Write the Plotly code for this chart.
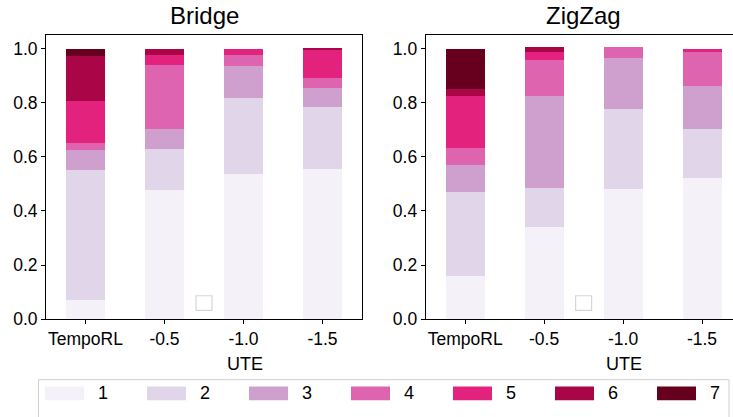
import plotly.graph_objects as go

# Categories on the x axis
categories = ["TempoRL", "-0.5", "-1.0", "-1.5"]
levels = ["1", "2", "3", "4", "5", "6", "7"]

# Fraction of episodes per level (stacked bottom to top), one list per level
bridge = [
    [0.069, 0.476, 0.537, 0.555],
    [0.483, 0.152, 0.279, 0.228],
    [0.072, 0.076, 0.119, 0.072],
    [0.025, 0.235, 0.040, 0.037],
    [0.156, 0.036, 0.025, 0.101],
    [0.166, 0.025, 0.000, 0.010],
    [0.029, 0.000, 0.000, 0.000],
]
zigzag = [
    [0.158, 0.339, 0.480, 0.523],
    [0.311, 0.144, 0.296, 0.181],
    [0.101, 0.340, 0.188, 0.159],
    [0.061, 0.134, 0.040, 0.126],
    [0.192, 0.032, 0.000, 0.011],
    [0.029, 0.015, 0.000, 0.000],
    [0.148, 0.000, 0.000, 0.000],
]
y_ticks = [0.0, 0.2, 0.4, 0.6, 0.8, 1.0]

colors = ["#f4f1f8", "#e1d5e9", "#cfa0cd", "#df64b0", "#e2227c", "#aa0546", "#67001f"]

W, H = 733, 417
FONT = "Liberation Sans, Arial, sans-serif"


def px_x(x):
    return x / W


def px_y(y):
    return 1 - y / H


fig = go.Figure()
for data, xa, ya in [(bridge, "x", "y"), (zigzag, "x2", "y2")]:
    for i, vals in enumerate(data):
        fig.add_trace(go.Bar(
            x=categories, y=vals, name=levels[i], width=0.5,
            marker=dict(color=colors[i], line=dict(width=0)),
            xaxis=xa, yaxis=ya, showlegend=False,
        ))

y_dom = [px_y(327), px_y(36)]
axis_common = dict(
    showline=True, linecolor="black", linewidth=1, ticks="outside",
    ticklen=4, tickcolor="black", showgrid=False, zeroline=False,
    tickfont=dict(family=FONT, size=17.5, color="black"),
)
fig.update_layout(
    width=W, height=H,
    margin=dict(l=0, r=0, t=0, b=0),
    plot_bgcolor="white", paper_bgcolor="white",
    barmode="stack", bargap=0,
    xaxis=dict(domain=[px_x(46), px_x(362)], range=[-0.5, 3.5], mirror=True,
               anchor="y", **axis_common),
    yaxis=dict(domain=y_dom, range=[0, 1.05], tickvals=y_ticks, tickformat=".1f",
               mirror=True, anchor="x", **axis_common),
    xaxis2=dict(domain=[px_x(425.7), 1], range=[-0.5, (733 - 465) / 79], mirror=True,
                anchor="y2", **axis_common),
    yaxis2=dict(domain=y_dom, range=[0, 1.05], tickvals=y_ticks, tickformat=".1f",
                anchor="x2", **axis_common),
)

# Titles and x-axis labels
for text, cx in [("Bridge", 204), ("ZigZag", 583.6)]:
    fig.add_annotation(text=text, x=px_x(cx), y=px_y(16), xref="paper", yref="paper",
                       showarrow=False, xanchor="center", yanchor="middle",
                       font=dict(family=FONT, size=24, color="black"))
for cx in [245, 624]:
    fig.add_annotation(text="UTE", x=px_x(cx), y=px_y(373), xref="paper", yref="paper",
                       showarrow=False, xanchor="center", yanchor="middle",
                       font=dict(family=FONT, size=18, color="black"))

# Empty per-axes legend frames
for cx in [204, 583.6]:
    x0, x1 = px_x(cx - 8), px_x(cx + 8)
    y0, y1 = px_y(303), px_y(318)
    fig.add_shape(type="path", xref="paper", yref="paper",
                  path=(f"M{x0},{y0} L{x1},{y0} L{x1},{y1} L{x0},{y1} Z"),
                  line=dict(color="#d6d6d6", width=1.2), fillcolor="rgba(255,255,255,0.8)")

# Shared legend along the bottom
fig.add_shape(type="rect", xref="paper", yref="paper",
              x0=px_x(38.5), x1=px_x(729), y0=px_y(430), y1=px_y(389),
              line=dict(color="#d0d0d0", width=1), fillcolor="white")
for i, lab in enumerate(levels):
    sx = 45 + i * 102
    fig.add_shape(type="rect", xref="paper", yref="paper",
                  x0=px_x(sx), x1=px_x(sx + 39), y0=px_y(410), y1=px_y(396),
                  line=dict(width=0), fillcolor=colors[i])
    fig.add_annotation(text=lab, x=px_x(sx + 58), y=px_y(403), xref="paper", yref="paper",
                       showarrow=False, xanchor="center", yanchor="middle",
                       font=dict(family=FONT, size=18, color="black"))

fig.write_html("out.html")
